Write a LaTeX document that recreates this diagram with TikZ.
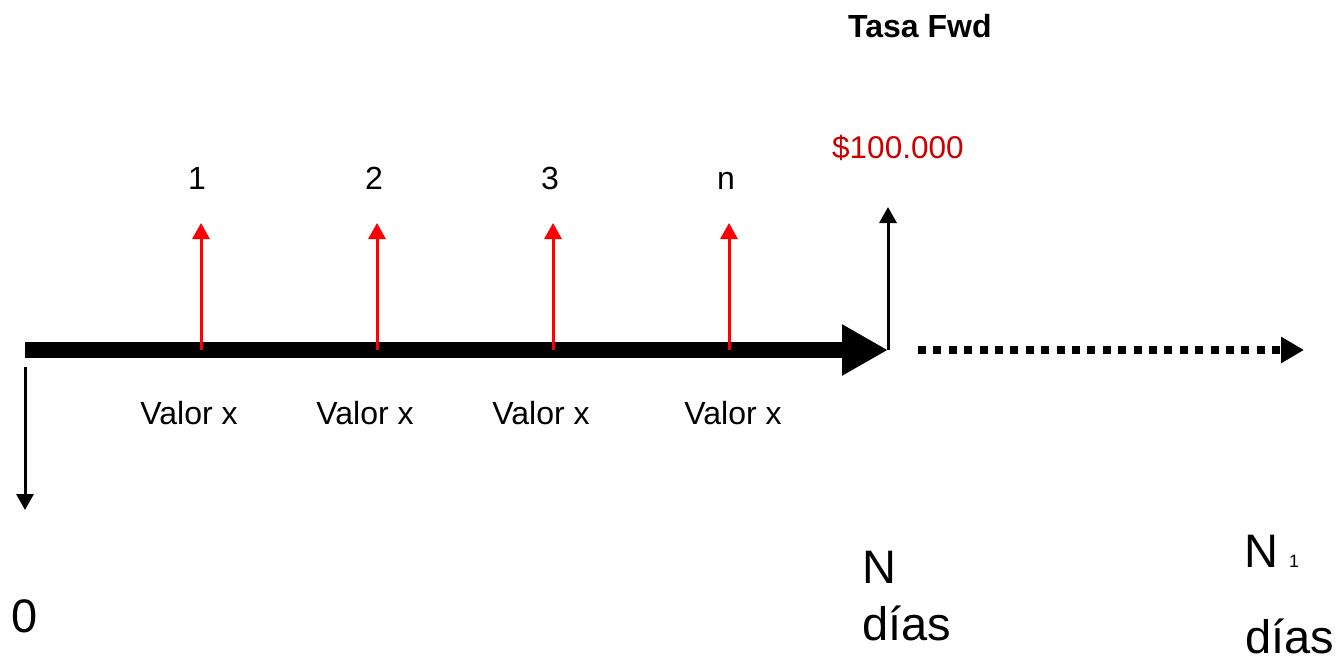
\documentclass[tikz,border=0pt]{standalone}
\usepackage{fontspec}
\setmainfont{Liberation Sans}
\usepackage{tikz}
\usetikzlibrary{
  positioning,
  arrows.meta
}
\definecolor{FlowRed}{RGB}{255,0,0}
\definecolor{DarkRed}{RGB}{204,0,0}

\begin{document}
\begin{tikzpicture}[
  x=1pt, y=-1pt,
  >=Stealth,
  bar/.style={line width=16pt, -{Triangle[length=46pt,width=48pt]}},
  flow/.style={line width=3pt, FlowRed, -{Triangle[length=16pt,width=17pt]}},
  cash/.style={line width=3pt, black, -{Triangle[length=16pt,width=17pt]}},
  dots/.style={line width=8pt, dash pattern=on 8pt off 7.4pt,
    -{Triangle[length=23pt,width=25pt]}},
  lbl/.style={inner sep=0pt, anchor=base, font=\fontsize{32}{38}\selectfont},
  big/.style={inner sep=0pt, anchor=base west, font=\fontsize{47}{56}\selectfont},
]
  \useasboundingbox (0,0) rectangle (1341,659);

  % ========== eje de tiempo ==========
  \coordinate (t0) at (25,350);
  \coordinate (tN) at (888,350);
  \coordinate (tEnd) at (1304,350);
  \draw[bar] (t0) -- (tN);
  % tramo posterior (punteado) hasta N1
  \coordinate (tFw) at (918,350);
  \draw[dots] (tFw) -- (tEnd);

  % ========== flujos ==========
  % salida inicial en 0
  \coordinate (out0) at (25,367);
  \coordinate (out0b) at (25,510);
  \draw[cash] (out0) -- (out0b);
  % pagos intermedios (rojos)
  \foreach \n/\x in {1/201,2/377,3/553,4/729} {
    \coordinate (t\n) at (\x,350);
    \coordinate (up\n) at (\x,223);
    \draw[flow] (t\n) -- (up\n);
  }
  % monto final en N
  \coordinate (upN) at (888,207);
  \draw[cash] (tN) -- (upN);

  % ========== etiquetas ==========
  \foreach \n/\x/\t in {1/197/1,2/374/2,3/550/3,4/726/n}
    \node[lbl] (num\n) at (\x,189) {\t};
  \foreach \n/\x in {1/189,2/365,3/541,4/733}
    \node[lbl] (val\n) at (\x,424) {Valor x};

  \node[inner sep=0pt, anchor=base west, font=\fontsize{32}{38}\selectfont\bfseries]
    (fwd) at (848,37) {Tasa Fwd};
  \node[inner sep=0pt, anchor=base west, text=DarkRed, font=\fontsize{31.5}{38}\selectfont]
    (monto) at (832,158) {\$100.000};

  \node[big, anchor=base] (cero) at (25,632) {0};
  \node[big] (nN) at (862,583) {N};
  \node[big] (diasN) at (862,640) {días};
  \node[big] (nN1) at (1244,567) {N};
  \node[inner sep=0pt, anchor=base west, font=\fontsize{18}{22}\selectfont]
    (sub1) at (1289,567) {1};
  \node[big] (diasN1) at (1245,653) {días};

\end{tikzpicture}
\end{document}
